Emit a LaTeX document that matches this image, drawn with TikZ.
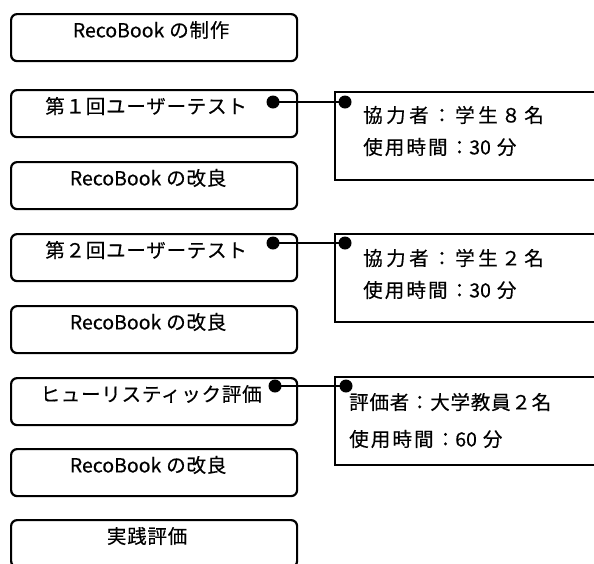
\documentclass[tikz,border=0pt]{standalone}
\usepackage{fontspec}
\setmainfont{Noto Sans CJK JP}[FakeBold=0.4]
\newfontfamily\jpls{Noto Sans CJK JP}[LetterSpace=4,FakeBold=0.4]
\newfontfamily\jpmid{Noto Sans CJK JP}[LetterSpace=11,FakeBold=0.4]
\newfontfamily\jpwide{Noto Sans CJK JP}[LetterSpace=18,FakeBold=0.4]
\begin{document}
\begin{tikzpicture}[x=1pt,y=1pt,
  lbox/.style={draw, line width=2.2pt, rounded corners=6pt, minimum width=286pt,
    minimum height=47pt, anchor=north west, inner sep=0pt},
  ltxt/.style={font=\fontsize{19.5}{22}\selectfont, inner sep=0pt, anchor=center},
  rbox/.style={draw, line width=2pt, minimum width=266pt, minimum height=88pt,
    anchor=north west, inner sep=0pt},
  rtxt/.style={font=\fontsize{19.5}{22}\selectfont, inner sep=0pt, anchor=west},
  dotfill/.style={fill=black},
  conn/.style={line width=1.6pt}]
\useasboundingbox (0,0) rectangle (594,-563);
\clip (0,0) rectangle (594,-563);

% left boxes
\node[lbox] (b1) at (10,-13) {};
\node[lbox] (b2) at (10,-89) {};
\node[lbox] (b3) at (10,-161) {};
\node[lbox] (b4) at (10,-233) {};
\node[lbox] (b5) at (10,-305) {};
\node[lbox] (b6) at (10,-377) {};
\node[lbox] (b7) at (10,-448) {};
\node[lbox] (b8) at (10,-519) {};

\node[ltxt] (t1) at ([shift={(-3,-17)}]b1.north) {RecoBook\hspace{5pt}{\jpls の制作}};
\node[ltxt] (t2) at ([shift={(-8,-17)}]b2.north) {\jpls 第１回ユーザーテスト};
\node[ltxt] (t3) at ([shift={(-6,-17)}]b3.north) {RecoBook\hspace{5pt}{\jpls の改良}};
\node[ltxt] (t4) at ([shift={(-8,-17)}]b4.north) {\jpls 第２回ユーザーテスト};
\node[ltxt] (t5) at ([shift={(-6,-17)}]b5.north) {RecoBook\hspace{5pt}{\jpls の改良}};
\node[ltxt] (t6) at ([shift={(-3,-17)}]b6.north) {\jpls ヒューリスティック評価};
\node[ltxt] (t7) at ([shift={(-6,-17)}]b7.north) {RecoBook\hspace{5pt}{\jpls の改良}};
\node[ltxt] (t8) at ([shift={(-7,-17)}]b8.north) {\jpls 実践評価};

% right boxes
\node[rbox] (r1) at (334,-91) {};
\node[rbox] (r2) at (334,-233) {};
\node[rbox] (r3) at (334,-376) {};

\node[rtxt] (r1a) at ([shift={(29,-24)}]r1.north west) {\jpwide 協力者：学生８名};
\node[rtxt] (r1b) at ([shift={(29,-56)}]r1.north west) {\jpmid 使用時間：{\normalfont 30}\hspace{6pt}分};
\node[rtxt] (r2a) at ([shift={(29,-25)}]r2.north west) {\jpwide 協力者：学生２名};
\node[rtxt] (r2b) at ([shift={(29,-57)}]r2.north west) {\jpmid 使用時間：{\normalfont 30}\hspace{6pt}分};
\node[rtxt] (r3a) at ([shift={(15,-26)}]r3.north west) {\jpls 評価者：大学教員２名};
\node[rtxt] (r3b) at ([shift={(15,-63)}]r3.north west) {\jpmid 使用時間：{\normalfont 60}\hspace{6pt}分};

% connectors
\coordinate (d1l) at (273,-102);
\coordinate (d1r) at (345,-102);
\coordinate (d2l) at (273,-243);
\coordinate (d2r) at (345,-243);
\coordinate (d3l) at (275,-386);
\coordinate (d3r) at (346,-386);

\draw[conn] (d1l) -- (d1r);
\draw[conn] (d2l) -- (d2r);
\draw[conn] (d3l) -- (d3r);
\foreach \d in {d1l,d1r,d2l,d2r,d3l,d3r}{
  \fill[dotfill] (\d) circle (6.5pt);
}
\end{tikzpicture}
\end{document}
